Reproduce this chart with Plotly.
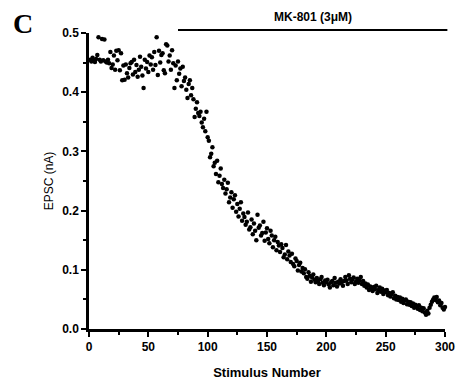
import plotly.graph_objects as go

# Stimulus numbers and EPSC amplitudes (nA)
stimulus = list(range(1, 301))
epsc = [
    0.455, 0.452, 0.458, 0.454, 0.451, 0.456, 0.463, 0.493, 0.455, 0.452,
    0.490, 0.454, 0.489, 0.452, 0.450, 0.455, 0.449, 0.468, 0.441, 0.447,
    0.462, 0.438, 0.470, 0.454, 0.471, 0.437, 0.466, 0.420, 0.445, 0.421,
    0.447, 0.432, 0.425, 0.441, 0.449, 0.451, 0.430, 0.455, 0.434, 0.446,
    0.426, 0.438, 0.460, 0.443, 0.428, 0.407, 0.455, 0.440, 0.451, 0.434,
    0.462, 0.447, 0.459, 0.438, 0.468, 0.446, 0.493, 0.429, 0.470, 0.450,
    0.463, 0.466, 0.437, 0.432, 0.481, 0.479, 0.452, 0.462, 0.438, 0.471,
    0.449, 0.407, 0.445, 0.420, 0.452, 0.431, 0.440, 0.410, 0.443, 0.419,
    0.425, 0.404, 0.390, 0.414, 0.420, 0.395, 0.407, 0.388, 0.358, 0.372,
    0.383, 0.365, 0.360, 0.367, 0.349, 0.341, 0.355, 0.334, 0.367, 0.324,
    0.318, 0.290, 0.296, 0.307, 0.275, 0.281, 0.262, 0.284, 0.248, 0.259,
    0.271, 0.245, 0.238, 0.252, 0.229, 0.236, 0.247, 0.214, 0.222, 0.231,
    0.205, 0.219, 0.226, 0.198, 0.211, 0.190, 0.203, 0.214, 0.183, 0.195,
    0.189, 0.176, 0.181, 0.197, 0.168, 0.172, 0.185, 0.160, 0.178, 0.166,
    0.150, 0.193, 0.171, 0.175, 0.158, 0.162, 0.181, 0.149, 0.163, 0.170,
    0.152, 0.145, 0.166, 0.158, 0.138, 0.150, 0.156, 0.133, 0.147, 0.141,
    0.130, 0.143, 0.137, 0.121, 0.126, 0.142, 0.118, 0.131, 0.124, 0.113,
    0.127, 0.110, 0.106, 0.119, 0.115, 0.099, 0.108, 0.112, 0.097, 0.103,
    0.094, 0.101, 0.088, 0.085, 0.096, 0.090, 0.080, 0.087, 0.092, 0.083,
    0.079, 0.086, 0.081, 0.076, 0.084, 0.088, 0.078, 0.074, 0.082, 0.079,
    0.083, 0.075, 0.070, 0.079, 0.081, 0.074, 0.086, 0.078, 0.072, 0.080,
    0.077, 0.084, 0.079, 0.073, 0.081, 0.088, 0.082, 0.076, 0.091, 0.085,
    0.079, 0.083, 0.087, 0.076, 0.080, 0.085, 0.078, 0.082, 0.088, 0.076,
    0.081, 0.073, 0.077, 0.070, 0.075, 0.066, 0.072, 0.068, 0.064, 0.071,
    0.067, 0.073, 0.061, 0.066, 0.070, 0.063, 0.068, 0.059, 0.065, 0.062,
    0.066, 0.057, 0.061, 0.055, 0.059, 0.062, 0.052, 0.056, 0.050, 0.054,
    0.049, 0.053, 0.046, 0.051, 0.044, 0.048, 0.050, 0.042, 0.046, 0.041,
    0.045, 0.039, 0.043, 0.036, 0.041, 0.038, 0.034, 0.040, 0.032, 0.036,
    0.030, 0.035, 0.028, 0.024, 0.031, 0.026, 0.036, 0.041, 0.046, 0.050,
    0.053, 0.049, 0.054, 0.045, 0.048, 0.040, 0.044, 0.036, 0.033, 0.037,
]

x_ticks = [0, 50, 100, 150, 200, 250, 300]
y_ticks = [0.0, 0.1, 0.2, 0.3, 0.4, 0.5]
x_range = [0, 300]
y_range = [0, 0.5]

drug_label = "MK-801 (3\u03bcM)"
drug_start = 75
drug_end = 302

SANS = "Liberation Sans, Arial, sans-serif"

fig = go.Figure()
fig.add_trace(go.Scatter(
    x=stimulus, y=epsc, mode="markers",
    marker=dict(size=4.5, color="black"),
    cliponaxis=False, showlegend=False,
))

axis_font = dict(family=SANS, size=12, color="black", weight="bold")

fig.update_xaxes(
    range=x_range, tickvals=x_ticks, showgrid=False, zeroline=False,
    showline=True, linecolor="black", linewidth=2.5,
    ticks="outside", ticklen=5, tickwidth=2, tickcolor="black",
    minor=dict(ticks="outside", ticklen=3, tickwidth=1.5, tickcolor="black", dtick=25),
    tickfont=axis_font,
    title=dict(text="Stimulus Number", font=dict(family=SANS, size=13, color="black", weight="bold"), standoff=15),
)
fig.update_yaxes(
    range=y_range, tickvals=y_ticks, tickformat=".1f", showgrid=False, zeroline=False,
    showline=True, linecolor="black", linewidth=2.5,
    ticks="outside", ticklen=5, tickwidth=2, tickcolor="black",
    minor=dict(ticks="outside", ticklen=3, tickwidth=1.5, tickcolor="black", dtick=0.05),
    tickfont=axis_font,
    title=dict(text="EPSC (nA)", font=dict(family=SANS, size=12, color="black"), standoff=6),
)

px0 = (drug_start - x_range[0]) / (x_range[1] - x_range[0])
px1 = (drug_end - x_range[0]) / (x_range[1] - x_range[0])
fig.add_shape(type="line", xref="paper", yref="paper", x0=px0, x1=px1, y0=1.010, y1=1.010,
              line=dict(color="black", width=2))
fig.add_annotation(text=drug_label, xref="paper", yref="paper", x=(px0 + px1) / 2, y=1.054,
                   xanchor="center", yanchor="middle", showarrow=False,
                   font=dict(family=SANS, size=12, color="black", weight="bold"))
fig.add_annotation(text="C", xref="paper", yref="paper", x=-0.185, y=1.033,
                   xanchor="center", yanchor="middle", showarrow=False,
                   font=dict(family="Liberation Serif, Times New Roman, serif", size=28, color="black", weight="bold"))

fig.update_layout(
    width=459, height=382,
    margin=dict(l=89, r=14, t=33, b=53, autoexpand=False),
    plot_bgcolor="white", paper_bgcolor="white",
)

fig.write_html("out.html")
